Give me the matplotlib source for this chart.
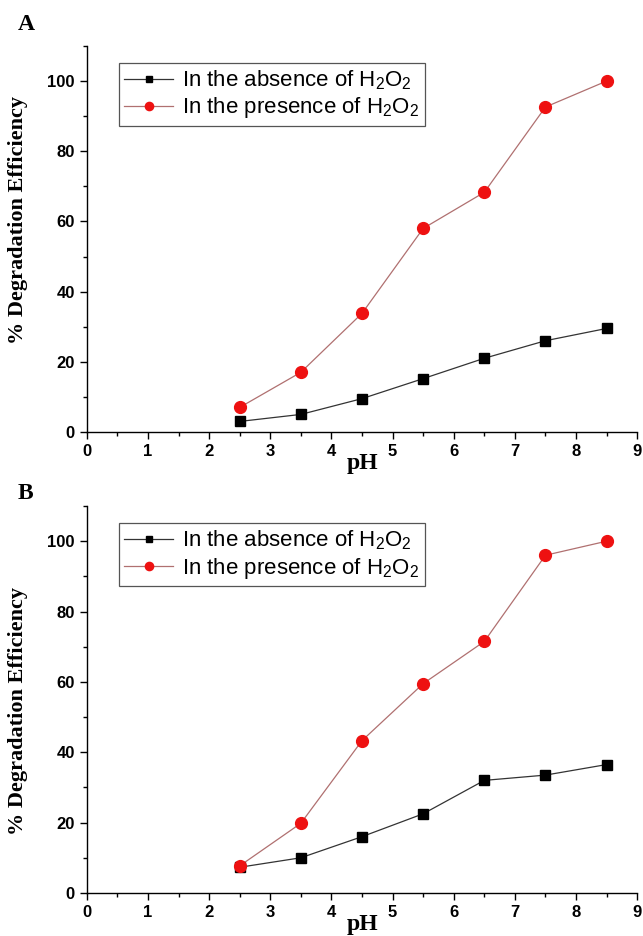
import matplotlib
matplotlib.use("Agg")
import matplotlib.pyplot as plt
from matplotlib.ticker import MultipleLocator

ph = [2.5, 3.5, 4.5, 5.5, 6.5, 7.5, 8.5]
a_absence = [3.0, 5.0, 9.5, 15.2, 21.0, 26.0, 29.5]
a_presence = [7.0, 17.0, 33.8, 58.0, 68.3, 92.6, 100.0]
b_absence = [7.3, 10.0, 16.0, 22.5, 32.0, 33.5, 36.5]
b_presence = [7.7, 19.8, 43.3, 59.5, 71.5, 96.0, 100.0]
panel_labels = ["A", "B"]
label_absence = r"In the absence of H$_2$O$_2$"
label_presence = r"In the presence of H$_2$O$_2$"

plt.rcParams['mathtext.fontset'] = 'custom'
plt.rcParams['mathtext.rm'] = 'Liberation Sans'
plt.rcParams['mathtext.it'] = 'Liberation Sans'

fig = plt.figure(figsize=(6.43, 9.36), dpi=100)
positions = [[0.135, 0.5385, 0.856, 0.4124], [0.135, 0.046, 0.856, 0.4134]]
datasets = [(a_absence, a_presence), (b_absence, b_presence)]
label_y = [0.974, 0.473]
ylabel_pos = [0.55, 0.47]

for pos, (absn, pres), lab, ly, yl in zip(positions, datasets, panel_labels, label_y, ylabel_pos):
    ax = fig.add_axes(pos)
    ax.plot(ph, absn, color='#333333', lw=0.9, marker='s', ms=7, mfc='black', mec='black',
            label=label_absence)
    ax.plot(ph, pres, color='#b07070', lw=0.9, marker='o', ms=8.5, mfc='#ee1111', mec='#ee1111',
            label=label_presence)
    ax.set_xlim(0, 9)
    ax.set_ylim(0, 110)
    ax.xaxis.set_major_locator(MultipleLocator(1))
    ax.xaxis.set_minor_locator(MultipleLocator(0.5))
    ax.yaxis.set_major_locator(MultipleLocator(20))
    ax.yaxis.set_minor_locator(MultipleLocator(10))
    for s in ['top', 'right']:
        ax.spines[s].set_visible(False)
    for s in ['left', 'bottom']:
        ax.spines[s].set_linewidth(1.0)
    ax.tick_params(which='major', direction='out', length=5, width=1, labelsize=12)
    ax.tick_params(which='minor', direction='out', length=3, width=1)
    for t in ax.get_xticklabels() + ax.get_yticklabels():
        t.set_fontfamily('Liberation Sans')
        t.set_fontweight('bold')
    ax.set_xlabel('pH', fontfamily='Liberation Serif', fontweight='bold', fontsize=17, labelpad=-4)
    ax.set_ylabel('% Degradation Efficiency', fontfamily='Liberation Serif', fontweight='bold',
                  fontsize=16)
    ax.yaxis.set_label_coords(-0.107, yl)
    leg = ax.legend(loc='upper left', bbox_to_anchor=(0.058, 0.956), borderaxespad=0,
                    fancybox=False, edgecolor='#555555', framealpha=1,
                    prop={'family': 'Liberation Sans', 'size': 16}, markerscale=0.7,
                    handlelength=2.2, borderpad=0.25, labelspacing=0.15, handletextpad=0.4)
    leg.get_frame().set_linewidth(0.9)
    fig.text(0.028, ly, lab, fontfamily='Liberation Serif', fontweight='bold', fontsize=17,
             va='center', ha='left')

fig.savefig('out.png', dpi=100)
